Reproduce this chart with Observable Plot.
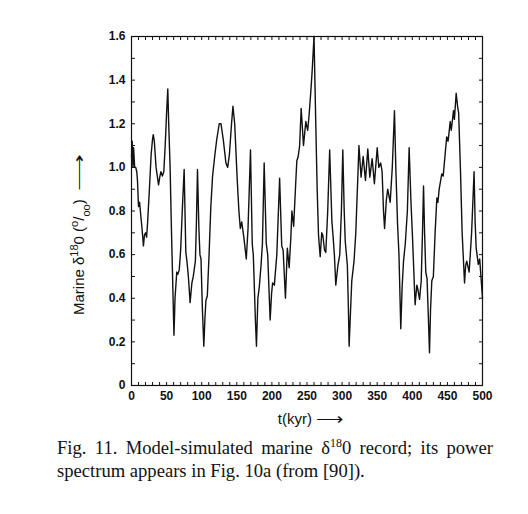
<!DOCTYPE html>
<html>
<head>
<meta charset="utf-8">
<script src="https://cdn.jsdelivr.net/npm/d3@7"></script>
<script src="https://cdn.jsdelivr.net/npm/@observablehq/plot@0.6"></script>
<style>
  html, body { margin: 0; padding: 0; background: #fff; }
  #wrap { position: relative; width: 528px; height: 514px; overflow: hidden; }
  #chart { position: absolute; left: 0; top: 0; }
  .cap { position: absolute; left: 57px; width: 436px; font-family: "Liberation Serif", "Times New Roman", serif; font-size: 18.6px; color: #111; white-space: nowrap; }
  #cap1 { top: 437px; text-align: justify; text-align-last: justify; }
  #cap2 { top: 460px; }
  sup { font-size: 12px; line-height: 0; }
</style>
</head>
<body>
<div id="wrap">
  <div id="chart"></div>
  <div class="cap" id="cap1">Fig. 11. Model-simulated marine δ<sup>18</sup>0 record; its power</div>
  <div class="cap" id="cap2">spectrum appears in Fig. 10a (from [90]).</div>
</div>
<script>
// time (kyr)
const tKyr = [
  0, 1, 2, 3, 4.5, 6, 7.5, 8.5, 10, 11.5, 13.5, 15, 17, 18.5, 20, 21.5, 23, 25.5, 28, 30,
  31, 32.5, 35, 38.5, 40.5, 42, 44, 46, 48, 50, 51.7, 53, 55, 56.5, 58.5, 60.5, 62, 64.5, 66, 68,
  70, 73, 75, 77.4, 79, 81, 83.5, 86, 88, 91, 92.5, 94, 96, 97.5, 99, 101, 103, 104.5, 106, 108,
  110.5, 113, 115.5, 118.5, 121.5, 125, 127.5, 131, 134.5, 137, 139.5, 142.5, 144.5, 147, 150.5, 153, 155, 157, 160, 163.5,
  166, 169.5, 172, 173.5, 176.5, 178, 180, 182, 184.5, 186.5, 189, 192, 194, 197.5, 199.5, 201, 203.5, 207, 211, 214,
  216, 219.3, 222, 224.6, 227, 228.5, 231, 233.5, 235.5, 237.5, 239.5, 241.7, 245, 248.3, 251, 253, 255.5, 257.5, 260, 262.5,
  264.5, 266.4, 268.8, 271, 272.5, 275, 276.8, 279.5, 282.3, 285.5, 287, 289, 291, 294, 296.7, 299, 301, 303, 304.5, 307.5,
  309, 310, 311.5, 313.8, 317, 319.5, 322, 324, 327, 330, 333.3, 336.6, 339.5, 342.8, 346, 350, 352.3, 355, 357, 359,
  360.5, 363, 365, 368.5, 371.5, 374.6, 376.5, 379, 381, 383.6, 385.5, 387.5, 390, 393, 395.5, 398, 400.3, 404, 406.5, 408,
  410.3, 412.7, 414.5, 416, 417.5, 419.2, 421, 423, 424.5, 426, 427.8, 430, 432.5, 435, 436.5, 438.3, 442, 444, 446.5, 449,
  451, 454, 455.5, 458.7, 460, 462.5, 464.5, 466, 468.5, 471, 474.4, 476, 477.6, 481, 484.5, 488, 489.5, 491, 494, 496,
  500
];
// marine d18O (per mil)
const d18O = [
  1.05, 1.12, 1.0, 1.09, 1.0, 1.0, 0.98, 0.94, 0.82, 0.84, 0.77, 0.72, 0.64, 0.69, 0.7, 0.68, 0.75, 0.9, 1.06, 1.13,
  1.15, 1.12, 1.0, 0.92, 0.96, 0.98, 0.96, 0.98, 1.1, 1.25, 1.36, 1.2, 1.0, 0.77, 0.5, 0.23, 0.4, 0.52, 0.51, 0.53,
  0.62, 0.85, 0.99, 0.61, 0.57, 0.5, 0.38, 0.47, 0.5, 0.57, 0.75, 0.99, 0.72, 0.6, 0.58, 0.35, 0.18, 0.3, 0.39, 0.41,
  0.6, 0.82, 0.96, 1.05, 1.13, 1.2, 1.2, 1.12, 1.02, 1.0, 1.06, 1.2, 1.28, 1.2, 0.95, 0.8, 0.72, 0.75, 0.68, 0.58,
  0.72, 1.08, 0.65, 0.6, 0.3, 0.18, 0.4, 0.45, 0.55, 0.65, 1.02, 0.65, 0.6, 0.3, 0.42, 0.47, 0.46, 0.6, 0.95, 0.64,
  0.62, 0.4, 0.63, 0.54, 0.68, 0.8, 0.73, 0.9, 1.03, 1.05, 1.1, 1.27, 1.1, 1.21, 1.17, 1.24, 1.35, 1.45, 1.6, 1.2,
  0.9, 0.69, 0.59, 0.7, 0.69, 0.62, 0.61, 0.8, 1.08, 0.75, 0.69, 0.6, 0.46, 0.55, 0.6, 0.8, 1.08, 0.8, 0.66, 0.55,
  0.35, 0.18, 0.3, 0.48, 0.57, 0.7, 0.92, 1.1, 0.955, 1.05, 0.94, 1.085, 0.955, 1.04, 0.925, 1.09, 1.0, 1.02, 0.98, 0.8,
  0.72, 0.85, 0.9, 0.84, 1.0, 1.26, 1.0, 0.74, 0.6, 0.26, 0.45, 0.57, 0.65, 0.8, 1.09, 0.85, 0.68, 0.37, 0.46, 0.44,
  0.395, 0.48, 0.7, 0.915, 0.7, 0.52, 0.49, 0.3, 0.15, 0.35, 0.48, 0.5, 0.7, 0.86, 0.84, 0.9, 0.97, 0.96, 1.05, 1.14,
  1.12, 1.21, 1.17, 1.26, 1.22, 1.34, 1.28, 1.25, 1.0, 0.7, 0.47, 0.55, 0.57, 0.52, 0.7, 0.98, 0.75, 0.63, 0.555, 0.58,
  0.4
];
const xTickLabels = [0, 50, 100, 150, 200, 250, 300, 350, 400, 450, 500];
const yTickLabels = [0, 0.2, 0.4, 0.6, 0.8, 1.0, 1.2, 1.4, 1.6];
const xMinorTicks = d3.range(0, 501, 10);
const yMinorTicks = d3.range(0, 17).map(i => i / 10);
const xLabel = "t(kyr) \u27F6";
const yLabel = "Marine \u03B418O (o/oo) \u27F6";

const data = tKyr.map((t, i) => ({t, v: d18O[i]}));
const noText = () => "";

const chart = Plot.plot({
  width: 528,
  height: 430,
  marginLeft: 131,
  marginRight: 46,
  marginTop: 36,
  marginBottom: 45,
  style: {fontFamily: "'Liberation Sans', Arial, sans-serif", fontSize: "12px", fontWeight: "bold", color: "#111", background: "white"},
  x: {domain: [0, 500]},
  y: {domain: [0, 1.6]},
  marks: [
    Plot.frame({stroke: "#111", strokeWidth: 1.2}),
    Plot.axisX({ticks: xTickLabels, tickSize: 0, tickPadding: 6, tickFormat: d => String(d), label: null}),
    Plot.axisX({anchor: "bottom", ticks: xMinorTicks, tickSize: 3, dy: -3, tickFormat: noText, label: null, stroke: "#111"}),
    Plot.axisX({anchor: "top", ticks: xMinorTicks, tickSize: 3, dy: 3, tickFormat: noText, label: null, stroke: "#111"}),
    Plot.axisY({ticks: yTickLabels, tickSize: 0, tickPadding: 6, tickFormat: d => d === 0 ? "0" : d.toFixed(1), label: null}),
    Plot.axisY({anchor: "left", ticks: yMinorTicks, tickSize: 4, dx: 4, tickFormat: noText, label: null, stroke: "#111"}),
    Plot.axisY({anchor: "right", ticks: yMinorTicks, tickSize: 4, dx: -4, tickFormat: noText, label: null, stroke: "#111"}),
    Plot.lineY(data, {x: "t", y: "v", stroke: "#111", strokeWidth: 1.4}),
    Plot.text([xLabel], {frameAnchor: "bottom", dy: 34, dx: 4, textAnchor: "middle", lineAnchor: "middle", fontSize: 15, fontWeight: "normal", fill: "#111"}),
    Plot.text([yLabel], {frameAnchor: "left", dx: -52, dy: 23, rotate: -90, textAnchor: "middle", lineAnchor: "middle", fontSize: 15, fontWeight: "normal", fill: "#111"})
  ]
});
document.getElementById("chart").appendChild(chart);

// Rich formatting of the axis labels (superscripts, long arrows)
const svgNS = "http://www.w3.org/2000/svg";
function rich(textEl, parts) {
  textEl.textContent = "";
  for (const p of parts) {
    const ts = document.createElementNS(svgNS, "tspan");
    ts.textContent = p.t;
    if (p.size) ts.setAttribute("font-size", p.size);
    if (p.shift) ts.setAttribute("baseline-shift", p.shift);
    if (p.len) { ts.setAttribute("textLength", p.len); ts.setAttribute("lengthAdjust", "spacingAndGlyphs"); }
    textEl.appendChild(ts);
  }
}
chart.querySelectorAll("text").forEach(el => {
  if (el.textContent === yLabel) {
    rich(el, [
      {t: "Marine \u03B4"}, {t: "18", size: 11, shift: "super"}, {t: "0 ("},
      {t: "o", size: 11, shift: "super"}, {t: "/"}, {t: "oo", size: 11, shift: "sub"}, {t: ")  "},
      {t: "\u27F6", len: 38}
    ]);
  } else if (el.textContent === xLabel) {
    rich(el, [{t: "t(kyr) "}, {t: "\u27F6", len: 28}]);
  }
});
</script>
</body>
</html>
